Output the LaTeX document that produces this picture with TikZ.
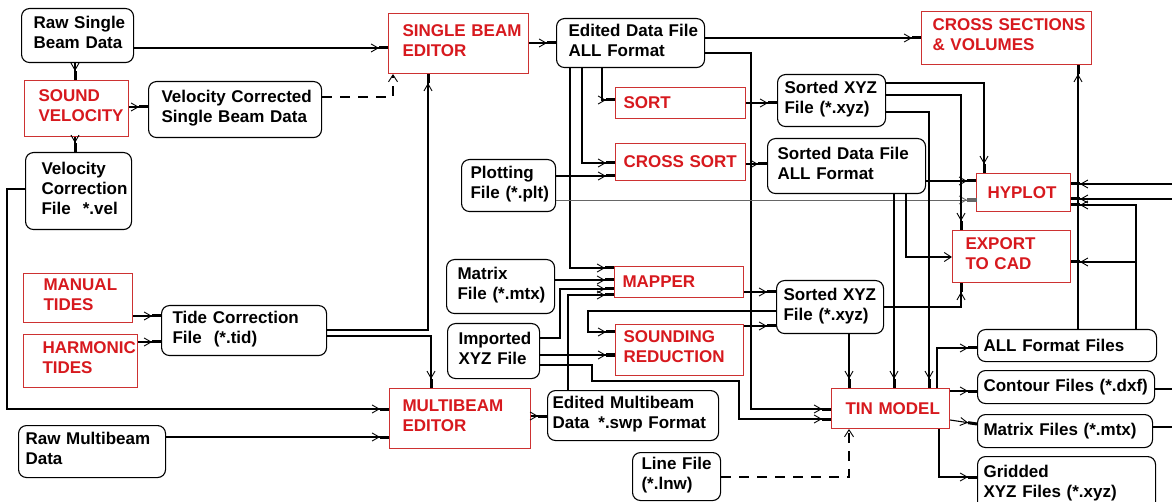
\documentclass[tikz,border=0pt]{standalone}
\usepackage{fontspec}
\setmainfont{Liberation Sans}
\usetikzlibrary{arrows.meta}
\definecolor{rtx}{RGB}{215,25,30}
\definecolor{rln}{RGB}{205,50,50}
\newcommand\lsk[1]{\leftskip=#1pt\relax\hyphenpenalty=10000\relax}
\newcommand\dnz{\rule[-6pt]{0pt}{6pt}\par}
\begin{document}
\begin{tikzpicture}[x=1pt,y=1pt,
  base/.style={anchor=north west, inner xsep=0pt, inner ysep=0pt, align=left,
    font=\bfseries\fontsize{17}{20}\selectfont},
  fbox/.style={base, draw=black, line width=1.1pt, rounded corners=8pt},
  rbox/.style={base, draw=rln, line width=1pt, text=rtx},
  conn/.style={line width=1.1pt, -{Straight Barb[length=7pt,width=8pt,line width=0.9pt] Rectangle[length=9pt,width=3pt]}},
  oconn/.style={line width=1.1pt, -{Straight Barb[length=7pt,width=9pt,line width=0.9pt]}},
  dconn/.style={oconn, dash pattern=on 10pt off 8pt},
  tconn/.style={conn, line width=0.5pt, draw=black!60}
]
\clip (0,0) rectangle (1172,-502);
\fill[white] (0,0) rectangle (1172,-502);

% file boxes
\node[fbox, text width=112pt, minimum height=54pt] (rsb) at (21,-8) {\lsk{12}Raw Single\\Beam Data\dnz};
\node[fbox, text width=173pt, minimum height=56pt] (vcs) at (148,-81) {\lsk{13}Velocity Corrected\\Single Beam Data\dnz};
\node[fbox, text width=106pt, minimum height=77pt] (vcf) at (25,-152) {\lsk{16}Velocity\\Correction\\File\hspace{12pt}*.vel\dnz};
\node[fbox, text width=165pt, minimum height=50pt] (tcf) at (161,-305) {\lsk{11}Tide Correction\\File\hspace{12pt}(*.tid)\dnz};
\node[fbox, text width=147pt, minimum height=52pt] (rmb) at (18,-425) {\lsk{7}Raw Multibeam\\Data\dnz};
\node[fbox, text width=148pt, minimum height=49pt] (edf) at (556,-18) {\lsk{12}Edited Data File\\ALL Format\dnz};
\node[fbox, text width=94pt, minimum height=52pt] (plt) at (461,-159) {\lsk{9}Plotting\\File (*.plt)\dnz};
\node[fbox, text width=108pt, minimum height=54pt] (mtx) at (446,-259) {\lsk{11}Matrix\\File (*.mtx)\dnz};
\node[fbox, text width=92pt, minimum height=55pt] (ixyz) at (447,-323) {\lsk{11}Imported\\XYZ File\dnz};
\node[fbox, text width=171pt, minimum height=50pt] (emb) at (547,-390) {\lsk{5}Edited Multibeam\\Data\hspace{9pt}*.swp Format\dnz};
\node[fbox, text width=88pt, minimum height=48pt] (lnw) at (632,-452) {\lsk{9}Line File\\(*.lnw)\dnz};
\node[fbox, text width=108pt, minimum height=52pt] (sxyzA) at (777,-74) {\lsk{7}Sorted XYZ\\File (*.xyz)\dnz};
\node[fbox, text width=158pt, minimum height=55pt] (sdf) at (767,-138) {\lsk{10}Sorted Data File\\ALL Format\dnz};
\node[fbox, text width=107pt, minimum height=53pt] (sxyzB) at (776,-280) {\lsk{7}Sorted XYZ\\File (*.xyz)\dnz};
\node[fbox, text width=179pt, minimum height=32pt] (allf) at (977,-329) {\lsk{6}ALL Format Files\par};
\node[fbox, text width=177pt, minimum height=33pt] (cont) at (977,-370) {\lsk{6}Contour Files (*.dxf)\par};
\node[fbox, text width=175pt, minimum height=33pt] (mfil) at (977,-414) {\lsk{6}Matrix Files (*.mtx)\par};
\node[fbox, text width=178pt, minimum height=56pt] (grid) at (977,-456) {\lsk{6}Gridded\\XYZ Files (*.xyz)\dnz};

% process boxes
\node[rbox, text width=140pt, minimum height=60pt] (sbe) at (388,-13) {\lsk{14}SINGLE BEAM\\EDITOR\dnz};
\node[rbox, text width=104pt, minimum height=56pt] (sv) at (24,-80) {\lsk{14}SOUND\\VELOCITY\dnz};
\node[rbox, text width=109pt, minimum height=49pt] (mt) at (23,-273) {\lsk{20}MANUAL\\TIDES\dnz};
\node[rbox, text width=114pt, minimum height=53pt] (ht) at (23,-334) {\lsk{19}HARMONIC\\TIDES\dnz};
\node[rbox, text width=141pt, minimum height=60pt] (mbe) at (389,-388) {\lsk{13}MULTIBEAM\\EDITOR\dnz};
\node[rbox, text width=130pt, minimum height=31pt] (sort) at (615,-87) {\lsk{8}SORT\par};
\node[rbox, text width=130pt, minimum height=37pt] (csort) at (615,-143) {\lsk{8}CROSS SORT\par};
\node[rbox, text width=129pt, minimum height=31pt] (mapper) at (614,-266) {\lsk{8}MAPPER\par};
\node[rbox, text width=128pt, minimum height=51pt] (sred) at (615,-324) {\lsk{8}SOUNDING\\REDUCTION\dnz};
\node[rbox, text width=170pt, minimum height=53pt] (csv) at (921,-11) {\lsk{11}CROSS SECTIONS\\\& VOLUMES\dnz};
\node[rbox, text width=94pt, minimum height=38pt] (hyp) at (976,-173) {\lsk{11}HYPLOT\par};
\node[rbox, text width=118pt, minimum height=52pt] (cad) at (952,-230) {\lsk{13}EXPORT\\TO CAD\dnz};
\node[rbox, text width=118pt, minimum height=40pt] (tin) at (831,-388) {\lsk{14}TIN MODEL\par};

\coordinate (jA) at (1136,-262);

% connectors
\draw[conn] (rsb.east |- 0,-48) -- (sbe.west |- 0,-48);
\draw[conn] (rsb.south -| 75,0) -- (sv.north -| 75,0);
\draw[conn] (sv.east |- 0,-107) -- (vcs.west |- 0,-107);
\draw[conn] (sv.south -| 75,0) -- (vcf.north -| 75,0);
\draw[dconn] (vcs.east |- 0,-97) -| (sbe.south -| 393,0);
\draw[conn] (tcf.east |- 0,-330) -| (sbe.south -| 428,0);
\draw[conn] (tcf.east |- 0,-336) -| (mbe.north -| 431,0);
\draw[conn] (vcf.west |- 0,-189) -| (7,-409) -- (mbe.west |- 0,-409);
\draw[conn] (rmb.east |- 0,-437) -- (mbe.west |- 0,-437);
\draw[conn] (mt.east |- 0,-316) -- (tcf.west |- 0,-316);
\draw[conn] (ht.east |- 0,-342) -- (tcf.west |- 0,-342);
\draw[conn] (mbe.east |- 0,-416) -- (emb.west |- 0,-416);
\draw[conn] (sbe.east |- 0,-43) -- (edf.west |- 0,-43);
\draw[conn] (edf.east |- 0,-38) -- (csv.west |- 0,-38);
\draw[conn] (edf.east |- 0,-53) -| (751,-409) -- (tin.west |- 0,-409);
\draw[conn] (edf.south -| 602,0) |- (sort.west |- 0,-100);
\draw[conn] (edf.south -| 582,0) |- (csort.west |- 0,-163);
\draw[conn] (edf.south -| 570,0) |- (mapper.west |- 0,-268);
\draw[conn] (plt.east |- 0,-176) -- (csort.west |- 0,-176);
\draw[tconn] (plt.east |- 0,-200) -- (hyp.west |- 0,-200);
\draw[conn] (sort.east |- 0,-103) -- (sxyzA.west |- 0,-103);
\draw[conn] (csort.east |- 0,-164) -- (sdf.west |- 0,-164);
\draw[conn] (sxyzA.east |- 0,-83) -| (hyp.north -| 984,0);
\draw[conn] (sxyzA.east |- 0,-95) -| (cad.north -| 961,0);
\draw[conn] (sxyzA.east |- 0,-112) -| (tin.north -| 929,0);
\draw[conn] (sdf.east |- 0,-181) -- (hyp.west |- 0,-181);
\draw[oconn] (sdf.south -| 906,0) |- (cad.west |- 0,-257);
\draw[conn] (sdf.south -| 894,0) -- (tin.north -| 894,0);
\draw[conn] (sxyzB.east |- 0,-307) -| (cad.south -| 961,0);
\draw[conn] (sxyzB.south -| 849,0) -- (tin.north -| 849,0);
\draw[conn] (mapper.east |- 0,-292) -- (sxyzB.west |- 0,-292);
\draw[conn] (sred.east |- 0,-326) -- (sxyzB.west |- 0,-326);
\draw[conn] (sxyzB.west |- 0,-311) -| (588,-332) -- (sred.west |- 0,-332);
\draw[conn] (mtx.east |- 0,-280) -- (mapper.west |- 0,-280);
\draw[conn] (ixyz.east |- 0,-338) -| (560,-289) -- (mapper.west |- 0,-289);
\draw[conn] (emb.north -| 568,0) |- (mapper.west |- 0,-295);
\draw[conn] (ixyz.east |- 0,-355) -- (sred.west |- 0,-355);
\draw[conn] (ixyz.east |- 0,-365) -| (592,-381) -| (739,-419) -- (tin.west |- 0,-419);
\draw[dconn] (lnw.east |- 0,-477) -| (tin.south -| 849,0);
\draw[conn] (tin.north -| 937,0) |- (allf.west |- 0,-348);
\draw[conn] (tin.east |- 0,-391) -- (cont.west |- 0,-391);
\draw[conn] (tin.east |- 0,-420) -- (mfil.west |- 0,-424);
\draw[conn] (tin.south -| 939,0) |- (grid.west |- 0,-477);
\draw[conn] (allf.north -| 1078,0) -- (csv.south -| 1078,0);
\draw[conn] (allf.north -| 1136,0) |- (hyp.east |- 0,-205);
\draw[conn] (jA) -- (cad.east |- jA);
\draw[conn] (cont.east |- 0,-389) -| (1190,-184) -- (hyp.east |- 0,-184);
\draw[conn] (mfil.east |- 0,-427) -| (1200,-199) -- (hyp.east |- 0,-199);
\end{tikzpicture}
\end{document}
